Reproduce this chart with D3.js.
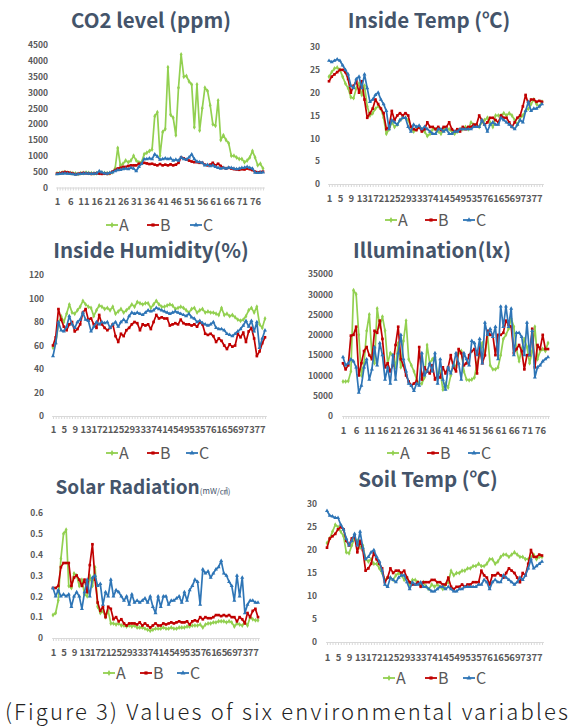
<!DOCTYPE html>
<html><head><meta charset="utf-8">
<script src="https://cdn.jsdelivr.net/npm/d3@7"></script>
<style>body{margin:0;background:#fff} svg{display:block}</style>
</head><body>
<svg id="c" width="575" height="728"></svg>
<script>
const N = 79;
const categories = d3.range(1, N + 1);
const seriesNames = ["A", "B", "C"];

const co2A = [450,460,470,480,470,460,450,440,430,450, 460,470,460,450,440,450,460,470,460,450,
  450,480,600,1250,700,750,850,800,850,1000, 850,800,800,1050,1100,1150,1200,2250,2380,1000,
  1750,1850,3800,2300,2200,1650,3150,4200,3500,3520, 3350,3250,1900,3250,1800,2500,3150,3050,2600,2000,
  1950,2750,1500,1650,1500,1400,1000,1000,950,900, 900,800,850,950,1150,950,700,750,600];
const co2B = [440,450,470,490,480,460,440,420,430,450, 460,450,440,430,440,450,440,430,440,430,
  450,500,550,600,620,650,650,680,700,700, 700,750,750,780,760,740,750,720,700,740,
  700,720,700,730,700,720,780,950,920,880, 850,820,800,800,780,780,720,700,720,780,
  700,750,680,620,600,620,600,580,570,560, 580,570,600,580,550,500,480,490,500];
const co2C = [420,430,440,450,440,430,420,410,420,430, 440,450,440,430,440,450,520,480,450,440,
  460,480,520,550,560,580,600,580,620,600, 520,650,750,900,900,920,900,1050,980,880,
  900,920,900,920,850,880,850,950,900,880, 950,1050,900,820,800,780,700,720,680,700,
  650,620,600,620,600,630,620,600,580,600, 620,630,650,620,600,470,460,470,480];

const tempA = [23.5,24.5,25.3,25.5,25.0,23.5,22.0,21.0,19.0,18.8, 21.0,22.0,19.5,21.5,17.0,15.0,15.5,16.5,17.0,16.5,
  14.5,11.0,12.0,13.5,12.5,13.0,14.0,14.5,14.5,14.0, 12.5,11.5,12.0,12.5,12.0,11.5,10.5,11.0,12.0,12.0,
  11.5,11.0,12.0,12.0,12.0,11.5,11.0,11.5,12.0,12.0, 12.5,12.0,13.5,13.0,13.0,12.5,13.5,14.0,14.5,13.5,
  12.5,15.0,15.0,15.0,15.5,15.0,15.5,15.0,14.0,13.0, 14.5,15.0,16.0,16.5,17.5,18.5,17.5,17.0,18.0];
const tempB = [22.5,23.5,24.0,24.5,25.0,25.0,24.5,23.0,20.0,21.5, 22.5,20.0,22.5,18.5,14.5,15.5,16.5,18.5,17.5,16.5,
  15.5,12.0,12.5,16.0,14.0,15.0,15.5,15.0,15.5,15.0, 12.5,12.0,11.8,12.5,11.5,12.0,13.5,12.5,12.5,12.0,
  12.5,11.8,12.5,12.5,13.5,12.0,11.5,12.0,11.5,12.5, 12.0,12.5,12.5,13.0,13.0,15.0,14.0,13.0,13.5,14.5,
  14.5,14.0,13.5,15.0,14.5,14.5,13.5,12.5,13.5,14.5, 15.0,17.0,19.5,17.5,18.5,18.5,18.0,18.2,18.0];
const tempC = [27.0,26.7,27.0,27.3,27.0,26.0,25.0,24.0,21.5,21.0, 23.0,23.5,21.0,24.0,21.0,18.0,18.5,19.5,20.0,18.5,
  17.5,16.0,12.0,14.0,13.5,13.0,14.0,14.5,14.5,12.5, 11.5,13.0,12.5,12.8,12.0,12.5,12.0,11.5,11.0,11.0,
  12.0,12.0,11.5,12.0,11.0,11.0,11.5,11.5,12.0,12.0, 12.0,12.0,12.0,12.5,12.5,12.5,14.0,13.0,11.5,13.0,
  13.5,13.0,13.0,14.5,14.0,13.5,13.0,12.5,12.0,13.0, 14.0,13.5,16.0,18.0,16.0,16.5,16.5,17.0,17.5];

const humA = [58,62,78,85,80,87,95,88,87,90, 93,98,95,93,92,85,90,94,93,91, 92,90,93,87,89,91,88,90,92,95,
  93,97,96,95,96,96,92,95,98,95, 93,93,94,95,94,91,92,93,92,90, 88,91,92,88,90,91,88,89,88,88,
  87,86,92,86,87,85,86,84,82,81, 82,85,90,92,88,93,78,75,83];
const humB = [60,67,91,82,76,73,78,80,72,74, 78,88,91,82,83,78,75,86,78,75, 73,75,78,68,63,70,68,73,75,78,
  80,79,73,78,77,78,74,80,86,83, 84,83,83,77,78,79,78,82,79,78, 78,77,78,76,80,78,70,69,70,68,
  63,66,64,60,57,61,59,60,70,67, 71,63,72,75,66,51,55,62,67];
const humC = [51,62,80,73,72,76,85,78,75,80, 82,88,82,81,72,76,80,78,80,79, 80,75,78,80,76,80,82,80,85,88,
  87,88,87,86,88,90,89,90,92,91, 90,89,88,87,88,89,88,87,86,85, 87,84,83,80,81,79,78,77,78,80,
  75,74,74,73,70,69,68,70,72,74, 77,81,76,81,72,80,58,66,73];

const illumA = [8500,8500,8600,11000,31000,30000,20000,10000,13000,21000, 25000,15000,13000,26500,22000,24500,21000,13000,15500,15000,
  12000,18000,12000,18500,23500,14000,12500,11000,9000,8000, 8000,9500,17500,13000,14000,14500,10000,11000,6500,8000,
  7000,10000,13000,12000,15500,16000,11000,9000,8800,9000, 9500,13000,15000,18000,15000,20000,12500,11500,11500,12000,
  15000,19000,20000,21500,24000,22000,16500,13500,16500,19000, 17000,13000,16000,22000,14000,16000,16500,16000,18000];
const illumB = [13000,11500,12500,19800,20000,22000,10000,13000,16000,17000, 15000,14000,21000,20500,23500,19000,12000,13000,11000,12500,
  17500,22000,14000,12500,10000,8500,7500,8000,8500,17000, 9000,12000,11000,10500,12500,9000,10000,9500,12000,10500,
  12000,15000,12000,11000,16500,15500,12500,13000,15000,16000, 16500,10500,17000,13000,15000,21000,20000,20000,15000,20000,
  20000,20500,23500,22500,22000,15500,16500,17500,16000,11500, 15000,15000,21500,12000,17500,16500,20000,16500,16500];
const illumC = [14500,12500,13000,14000,13500,12000,5800,7500,12000,14000, 9000,11500,17000,12500,18000,15000,9000,12000,8000,15000,
  9000,15500,20000,14000,11000,8000,7500,6200,8000,7500, 15500,10000,11000,13000,11000,15500,8000,14000,9000,6500,
  12000,10500,12500,15500,13000,9000,15500,14000,12500,18500, 18000,15000,19000,13000,23000,20000,21500,19500,22000,14000,
  27000,22000,27000,22000,26500,15000,20500,20500,19500,15000, 23000,15000,21000,9500,12000,12500,13500,14000,14500];

const solarA = [0.11,0.12,0.18,0.38,0.50,0.52,0.25,0.24,0.31,0.30, 0.25,0.28,0.21,0.20,0.30,0.25,0.34,0.15,0.12,0.13,
  0.10,0.13,0.07,0.07,0.065,0.07,0.06,0.06,0.055,0.06, 0.055,0.06,0.05,0.05,0.05,0.045,0.04,0.035,0.04,0.045,
  0.045,0.045,0.05,0.045,0.045,0.05,0.045,0.045,0.05,0.05, 0.05,0.055,0.055,0.06,0.06,0.06,0.065,0.05,0.065,0.07,
  0.07,0.075,0.075,0.08,0.08,0.08,0.075,0.08,0.075,0.055, 0.07,0.065,0.06,0.075,0.06,0.10,0.09,0.085,0.085];
const solarB = [0.24,0.24,0.25,0.34,0.36,0.36,0.36,0.25,0.29,0.30, 0.28,0.25,0.28,0.22,0.35,0.45,0.28,0.17,0.13,0.15,
  0.10,0.15,0.14,0.09,0.10,0.08,0.09,0.07,0.06,0.07, 0.07,0.07,0.065,0.075,0.06,0.07,0.06,0.05,0.06,0.07,
  0.06,0.06,0.07,0.065,0.07,0.075,0.07,0.075,0.08,0.075, 0.075,0.08,0.065,0.08,0.085,0.08,0.10,0.09,0.10,0.095,
  0.095,0.10,0.11,0.11,0.105,0.11,0.105,0.11,0.10,0.10, 0.08,0.10,0.09,0.07,0.12,0.10,0.13,0.14,0.10];
const solarC = [0.24,0.20,0.23,0.20,0.21,0.20,0.21,0.15,0.20,0.22, 0.20,0.14,0.22,0.28,0.20,0.29,0.30,0.25,0.26,0.16,
  0.22,0.20,0.28,0.20,0.23,0.22,0.20,0.18,0.20,0.16, 0.21,0.17,0.18,0.17,0.18,0.19,0.17,0.20,0.15,0.12,
  0.20,0.15,0.20,0.20,0.16,0.18,0.18,0.19,0.20,0.17, 0.22,0.18,0.23,0.25,0.28,0.27,0.16,0.33,0.31,0.32,
  0.29,0.31,0.33,0.34,0.37,0.31,0.30,0.27,0.25,0.18, 0.30,0.20,0.29,0.12,0.16,0.18,0.18,0.17,0.17];

const soilA = [21.5,22.5,24.0,25.5,25.0,24.0,23.0,19.5,19.3,21.0, 22.5,22.0,20.5,21.0,18.0,17.5,18.0,17.0,17.0,16.0,
  15.0,13.5,14.0,14.0,13.5,14.5,15.0,14.5,13.5,14.0, 12.5,13.5,13.5,13.0,12.5,13.0,12.0,11.5,12.5,12.0,
  12.5,12.0,11.5,12.5,13.0,15.5,14.5,15.0,15.0,15.5, 15.5,16.0,16.0,16.5,16.5,17.0,16.5,16.5,17.0,18.0,
  18.0,17.0,17.5,18.5,19.0,19.0,18.5,19.0,19.5,19.0, 18.5,18.5,18.0,18.0,18.5,19.0,18.0,18.5,18.5];
const soilB = [20.5,22.5,23.0,23.5,24.5,25.0,24.5,22.0,21.0,22.5, 23.0,19.5,22.0,20.0,15.5,16.0,17.0,19.5,18.0,17.0,
  16.0,13.0,14.0,16.0,15.0,15.5,15.5,15.0,15.5,14.0, 13.0,12.5,12.5,13.0,12.0,13.0,13.0,13.0,13.5,13.5,
  13.0,13.0,12.5,12.5,14.0,12.0,11.5,12.0,12.0,12.5, 12.0,12.5,12.5,13.0,13.0,13.0,15.5,14.5,14.0,12.5,
  14.5,14.5,15.0,14.5,14.0,15.0,16.0,15.5,15.0,14.0, 13.0,15.0,14.5,17.0,20.0,18.5,18.5,19.0,18.8];
const soilC = [28.5,27.5,27.3,27.0,27.0,25.5,24.5,22.5,21.0,22.0, 23.5,21.0,24.0,20.5,18.0,18.5,19.5,20.0,18.5,17.5,
  15.5,12.5,12.0,14.0,13.5,13.0,14.0,14.5,14.5,13.0, 11.5,13.0,12.5,12.5,13.0,12.0,12.0,11.5,11.0,11.0,
  11.5,12.0,12.0,11.5,12.0,11.5,11.0,11.0,11.5,11.5, 12.0,12.0,12.0,12.0,12.0,12.5,12.5,13.5,13.0,11.5,
  13.0,13.5,13.0,13.0,14.5,14.0,13.5,13.0,12.5,13.0, 14.0,13.5,14.5,16.0,18.0,16.0,16.5,17.0,17.5];

const co2Ticks = [0,500,1000,1500,2000,2500,3000,3500,4000,4500];
const tempTicks = [0,5,10,15,20,25,30];
const humTicks = [0,20,40,60,80,100,120];
const illumTicks = [0,5000,10000,15000,20000,25000,30000,35000];
const solarTicks = [0,0.1,0.2,0.3,0.4,0.5,0.6];
const soilTicks = [0,5,10,15,20,25,30];
const xLabels5 = categories.filter(d => (d - 1) % 5 === 0);
const xLabels4 = categories.filter(d => (d - 1) % 4 === 0);

const colors = ["#92d050", "#c00000", "#2e75b6"];
const symbols = [d3.symbolDiamond, d3.symbolSquare, d3.symbolTriangle];
const titleColor = "#44546a";
const tickColor = "#595959";

const panels = [
  {title: "CO2 level (ppm)", data: [co2A, co2B, co2C], yTicks: co2Ticks, xLabels: xLabels5,
   x0: 57, x1: 263, yB: 187.5, yT: 45, yLabX: 48, xLabY: 205, tX: 151, tY: 28, legY: 225, legX: [106, 147, 190]},
  {title: "Inside Temp (℃)", data: [tempA, tempB, tempC], yTicks: tempTicks, xLabels: xLabels4,
   x0: 329, x1: 542, yB: 184, yT: 47, yLabX: 320, xLabY: 202, tX: 429, tY: 28, legY: 220, legX: [385, 425, 463]},
  {title: "Inside Humidity(%)", data: [humA, humB, humC], yTicks: humTicks, xLabels: xLabels4,
   x0: 53, x1: 265, yB: 416, yT: 275, yLabX: 44, xLabY: 433, tX: 151, tY: 258, legY: 453, legX: [106, 147, 186]},
  {title: "Illumination(lx)", data: [illumA, illumB, illumC], yTicks: illumTicks, xLabels: xLabels5,
   x0: 343, x1: 548, yB: 416, yT: 274, yLabX: 333, xLabY: 434, tX: 432, tY: 258, legY: 453, legX: [387, 427, 468]},
  {title: "Solar Radiation", unit: "(mW/㎠)", data: [solarA, solarB, solarC], yTicks: solarTicks, xLabels: xLabels4,
   x0: 53, x1: 258, yB: 638, yT: 513, yLabX: 43, xLabY: 656, tX: 143, tY: 494, legY: 673, legX: [103, 140, 177]},
  {title: "Soil Temp (℃)", data: [soilA, soilB, soilC], yTicks: soilTicks, xLabels: xLabels4,
   x0: 327, x1: 542, yB: 642, yT: 504, yLabX: 317, xLabY: 661, tX: 428, tY: 487, legY: 678, legX: [383, 425, 463]}
];

const svg = d3.select("#c");
const FONT = "'Noto Sans CJK KR', 'Noto Sans', sans-serif";

panels.forEach(p => {
  const g = svg.append("g");
  const step = (p.x1 - p.x0) / (N - 1);
  const x = d3.scalePoint().domain(categories).range([p.x0 - step / 2, p.x1 + step / 2]).padding(0.5);
  const y = d3.scaleLinear().domain([0, d3.max(p.yTicks)]).range([p.yB, p.yT]);

  const t = g.append("text").attr("x", p.tX).attr("y", p.tY).attr("text-anchor", "middle")
    .attr("font-family", FONT).attr("font-weight", 700).attr("font-size", p.unit ? 19 : 20.5).attr("fill", titleColor)
    .text(p.title);
  if (p.unit) {
    t.append("tspan").attr("font-size", 8).attr("font-weight", 400).text(p.unit);
  }

  const ya = g.append("g").attr("transform", `translate(${p.yLabX},0)`)
    .call(d3.axisLeft(y).tickValues(p.yTicks).tickSize(0).tickPadding(0)
      .tickFormat(d => d3.format("")(+d.toFixed(2))));
  ya.select(".domain").remove();
  ya.selectAll("text").attr("font-family", FONT).attr("font-weight", 700).attr("font-size", 8.5).attr("fill", tickColor);

  const xa = g.append("g").attr("transform", `translate(0,${p.yB})`)
    .call(d3.axisBottom(x).tickValues(categories).tickSize(3).tickSizeOuter(0)
      .tickFormat(d => p.xLabels.includes(d) ? d : ""));
  xa.select(".domain").attr("stroke", "#d9d9d9");
  xa.selectAll(".tick line").attr("stroke", "#d9d9d9");
  xa.selectAll("text").attr("y", p.xLabY - p.yB).attr("dy", null)
    .attr("font-family", FONT).attr("font-weight", 700).attr("font-size", 9.5).attr("fill", tickColor);

  p.data.forEach((vals, si) => {
    const pts = categories.map((c, i) => [c, vals[i]]);
    g.append("path").datum(pts)
      .attr("fill", "none").attr("stroke", colors[si]).attr("stroke-width", 1.7).attr("stroke-linejoin", "round")
      .attr("d", d3.line().x(d => x(d[0])).y(d => y(d[1])));
    g.append("g").selectAll("path").data(pts).join("path")
      .attr("transform", d => `translate(${x(d[0])},${y(d[1])})`)
      .attr("d", d3.symbol().type(symbols[si]).size(7))
      .attr("fill", colors[si]);
  });

  seriesNames.forEach((name, si) => {
    const lx = p.legX[si];
    g.append("line").attr("x1", lx).attr("x2", lx + 12).attr("y1", p.legY).attr("y2", p.legY)
      .attr("stroke", colors[si]).attr("stroke-width", 1.8);
    g.append("path").attr("transform", `translate(${lx + 6},${p.legY})`)
      .attr("d", d3.symbol().type(symbols[si]).size(10)).attr("fill", colors[si]);
    g.append("text").attr("x", lx + 13).attr("y", p.legY + 6)
      .attr("font-family", FONT).attr("font-size", 16).attr("fill", tickColor).text(name);
  });
});

svg.append("text").attr("x", 5).attr("y", 720)
  .attr("font-family", FONT).attr("font-weight", 300).attr("font-size", 22).attr("fill", "#222")
  .attr("textLength", 563).attr("lengthAdjust", "spacing")
  .text("(Figure 3) Values of six environmental variables");
</script>
</body></html>
